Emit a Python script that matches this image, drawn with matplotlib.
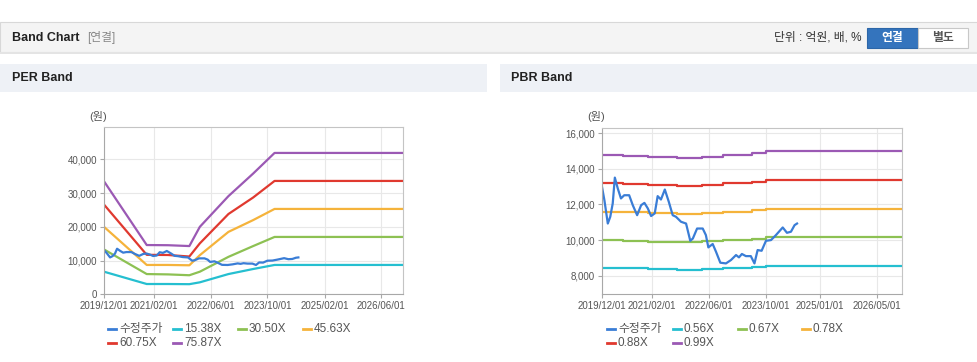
import pandas as pd
import matplotlib
matplotlib.use("Agg")
import matplotlib.pyplot as plt
from matplotlib.patches import Rectangle
from matplotlib.lines import Line2D
from matplotlib.ticker import FuncFormatter

plt.rcParams['font.family'] = ['Liberation Sans', 'Noto Sans CJK KR']

# 수정주가 (same price series in both charts)
price_dates = ["2019-12-01", "2019-12-24", "2020-01-22", "2020-02-12", "2020-03-04", "2020-03-22",
               "2020-04-16", "2020-05-13", "2020-06-10", "2020-07-22", "2020-08-22", "2020-09-28",
               "2020-11-01", "2020-11-29", "2020-12-28", "2021-01-25", "2021-02-25", "2021-03-22",
               "2021-04-19", "2021-05-22", "2021-06-25", "2021-07-28", "2021-08-25", "2021-10-07",
               "2021-11-19", "2021-12-25", "2022-01-16", "2022-02-21", "2022-04-10", "2022-05-07",
               "2022-05-28", "2022-07-04", "2022-08-01", "2022-09-07", "2022-10-25", "2022-12-07",
               "2023-01-19", "2023-02-13", "2023-03-10", "2023-04-13", "2023-05-25", "2023-06-25",
               "2023-07-22", "2023-08-25", "2023-10-01", "2023-11-13", "2023-12-25", "2024-02-21",
               "2024-03-28", "2024-05-01", "2024-06-01", "2024-06-22"]
price = [13080, 12240, 10930, 11310, 12060, 13510, 12900, 12340, 12520, 12520, 11960, 11400,
         11960, 12090, 11780, 11350, 11500, 12470, 12280, 12840, 12150, 11400, 11310, 11030,
         10930, 9960, 10090, 10650, 10650, 10280, 9590, 9780, 9350, 8730, 8690, 8880,
         9160, 9030, 9220, 9100, 9100, 8690, 9440, 9400, 9960, 10000, 10280, 10710,
         10410, 10470, 10840, 10930]

# PER band
per_dates = ["2019-12-01", "2020-12-01", "2021-06-01", "2021-12-01", "2022-03-01",
             "2022-11-01", "2023-06-01", "2023-12-01", "2026-12-01"]
per_names = ["15.38X", "30.50X", "45.63X", "60.75X", "75.87X"]
per_1538 = [6700, 3050, 3050, 3000, 3550, 6000, 7500, 8700, 8700]
per_3050 = [13300, 6000, 5900, 5650, 6700, 11100, 14300, 17000, 17000]
per_4563 = [20000, 8700, 8700, 8600, 11600, 18500, 22000, 25300, 25300]
per_6075 = [26600, 11700, 11650, 11200, 15100, 23800, 28700, 33600, 33600]
per_7587 = [33500, 14600, 14550, 14300, 20000, 29100, 35800, 41900, 41900]

# PBR band
pbr_dates = ["2019-12-01", "2020-06-01", "2021-01-01", "2021-09-01", "2022-04-01",
             "2022-10-01", "2023-06-01", "2023-10-01", "2026-12-01"]
pbr_names = ["0.56X", "0.67X", "0.78X", "0.88X", "0.99X"]
pbr_056 = [8450, 8410, 8360, 8320, 8380, 8430, 8470, 8520, 8520]
pbr_067 = [10000, 9970, 9910, 9870, 9930, 10020, 10080, 10150, 10150]
pbr_078 = [11600, 11560, 11500, 11450, 11500, 11600, 11670, 11750, 11750]
pbr_088 = [13230, 13150, 13100, 13040, 13100, 13190, 13280, 13380, 13380]
pbr_099 = [14780, 14730, 14650, 14600, 14690, 14760, 14880, 15010, 15010]

per_ticks = ["2019/12/01", "2021/02/01", "2022/06/01", "2023/10/01", "2025/02/01", "2026/06/01"]
pbr_ticks = ["2019/12/01", "2021/02/01", "2022/06/01", "2023/10/01", "2025/01/01", "2026/05/01"]

price_color = "#3a7dd6"
band_colors = ["#25bfd0", "#8dc153", "#f5b33b", "#e0392f", "#9b59b4"]

W, H = 978, 362
fig = plt.figure(figsize=(W / 100, H / 100), dpi=100)
fig.patch.set_facecolor("white")


def box(x0, y0, x1, y1, fc, ec="none", lw=0.8):
    # rectangle in pixel coords (top-left origin)
    fig.add_artist(Rectangle((x0 / W, 1 - y1 / H), (x1 - x0) / W, (y1 - y0) / H,
                             transform=fig.transFigure, facecolor=fc, edgecolor=ec,
                             linewidth=lw, zorder=0))


def ftext(x, y, s, **kw):
    fig.text(x / W, 1 - y / H, s, va="center", **kw)


# header bars
box(0, 52, W, 362, "#ffffff")
box(0, 22, W, 52, "#f4f4f4", "#d8d8d8")
box(0, 52, W, 54, "#e4e4e4")
ftext(12, 38, "Band Chart", fontsize=9, fontweight="bold", color="#222222")
ftext(87, 38, "[연결]", fontsize=8.5, color="#888888")
ftext(862, 38, "단위 : 억원, 배, %", fontsize=8.5, color="#333333", ha="right")
box(867, 28, 918, 48, "#3474bd", "#2c66a8")
box(918, 28, 968, 48, "#ffffff", "#c8c8c8")
ftext(892.5, 38, "연결", fontsize=8.5, fontweight="bold", color="white", ha="center")
ftext(943, 38, "별도", fontsize=8.5, fontweight="bold", color="#555555", ha="center")

box(0, 64, 487, 92, "#eef1f6")
box(500, 64, W, 92, "#eef1f6")
ftext(12, 78, "PER Band", fontsize=9, fontweight="bold", color="#222222")
ftext(511, 78, "PBR Band", fontsize=9, fontweight="bold", color="#222222")


def style_axis(ax, ticks, yticks, ylim):
    ax.set_xlim(pd.Timestamp("2019-12-01"), pd.Timestamp("2026-12-01"))
    ax.set_ylim(*ylim)
    ax.set_xticks(pd.to_datetime(ticks))
    ax.set_xticklabels(ticks)
    ax.set_yticks(yticks)
    ax.yaxis.set_major_formatter(FuncFormatter(lambda v, p: f"{v:,.0f}"))
    ax.grid(True, color="#e8e8e8", lw=0.8)
    ax.set_axisbelow(True)
    for s in ax.spines.values():
        s.set_color("#c4c4c4")
    ax.spines["left"].set_color("#a8a8a8")
    ax.spines["bottom"].set_color("#a8a8a8")
    ax.tick_params(length=3, color="#a8a8a8", labelsize=7, labelcolor="#555555", pad=2)


# PER chart
ax1 = fig.add_axes([104 / W, 1 - 294.3 / H, 298.5 / W, 167 / H])
per_bands = [per_1538, per_3050, per_4563, per_6075, per_7587]
for vals, c in zip(per_bands, band_colors):
    ax1.plot(pd.to_datetime(per_dates), vals, color=c, lw=1.6)
ax1.plot(pd.to_datetime(price_dates), price, color=price_color, lw=1.6)
style_axis(ax1, per_ticks, [0, 10000, 20000, 30000, 40000], (0, 49500))
ftext(98, 117, "(원)", fontsize=8, color="#555555", ha="center")

# PBR chart
ax2 = fig.add_axes([601.7 / W, 1 - 294.3 / H, 300 / W, 166 / H])
pbr_bands = [pbr_056, pbr_067, pbr_078, pbr_088, pbr_099]
for vals, c in zip(pbr_bands, band_colors):
    ax2.plot(pd.to_datetime(pbr_dates), vals, color=c, lw=1.6, drawstyle="steps-post")
ax2.plot(pd.to_datetime(price_dates), price, color=price_color, lw=1.6)
style_axis(ax2, pbr_ticks, [8000, 10000, 12000, 14000, 16000], (6955, 16280))
ftext(596, 117, "(원)", fontsize=8, color="#555555", ha="center")

# legends
per_labels = ["수정주가"] + per_names
pbr_labels = ["수정주가"] + pbr_names
colors = [price_color] + band_colors
per_text_x = [121, 186, 251, 316, 121, 186]
pbr_text_x = [620, 686, 751, 815, 620, 686]
row_y = [329, 329, 329, 329, 343, 343]
for labels, xs in [(per_labels, per_text_x), (pbr_labels, pbr_text_x)]:
    for lab, c, x, y in zip(labels, colors, xs, row_y):
        fig.add_artist(Line2D([(x - 13) / W, (x - 5) / W], [1 - y / H, 1 - y / H],
                              transform=fig.transFigure, color=c, lw=2))
        ftext(x - 2, y, lab, fontsize=8.5, color="#555555")

fig.savefig("out.png", dpi=100)
